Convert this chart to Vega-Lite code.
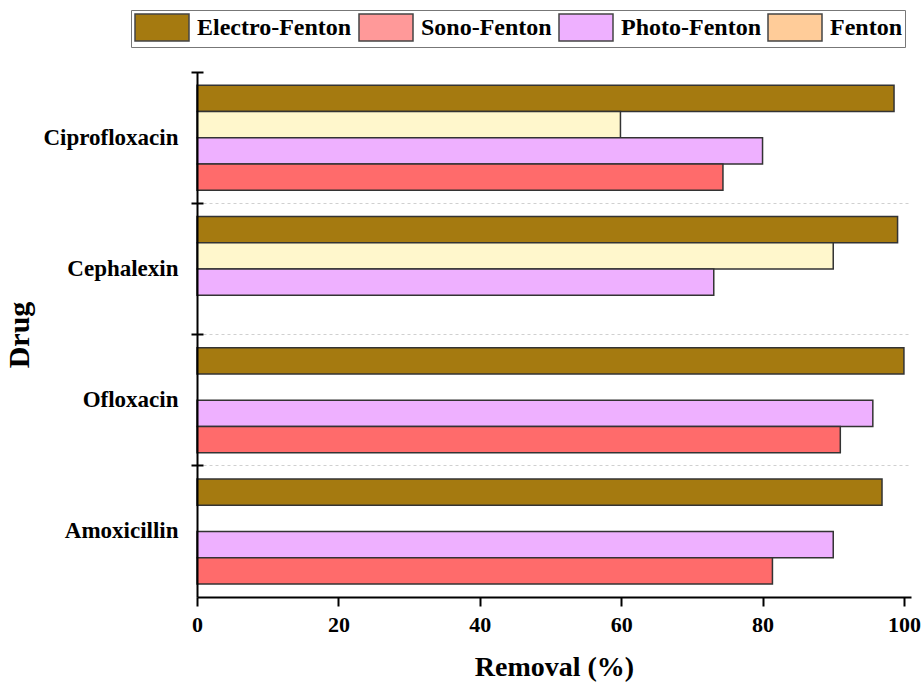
{
  "$schema": "https://vega.github.io/schema/vega-lite/v6.json",
  "width": 714,
  "height": 525,
  "autosize": {"type": "none"},
  "padding": {"left": 197, "top": 72, "right": 12, "bottom": 86},
  "background": "white",
  "config": {
    "view": {"stroke": null},
    "font": "Liberation Serif"
  },
  "layer": [
    {
      "data": {
        "values": [
          {"drug": "Ciprofloxacin", "method": "Electro-Fenton", "removal": 98.6},
          {"drug": "Ciprofloxacin", "method": "Fenton", "removal": 59.9},
          {"drug": "Ciprofloxacin", "method": "Photo-Fenton", "removal": 80.0},
          {"drug": "Ciprofloxacin", "method": "Sono-Fenton", "removal": 74.4},
          {"drug": "Cephalexin", "method": "Electro-Fenton", "removal": 99.1},
          {"drug": "Cephalexin", "method": "Fenton", "removal": 90.0},
          {"drug": "Cephalexin", "method": "Photo-Fenton", "removal": 73.1},
          {"drug": "Ofloxacin", "method": "Electro-Fenton", "removal": 100.0},
          {"drug": "Ofloxacin", "method": "Photo-Fenton", "removal": 95.6},
          {"drug": "Ofloxacin", "method": "Sono-Fenton", "removal": 91.0},
          {"drug": "Amoxicillin", "method": "Electro-Fenton", "removal": 96.9},
          {"drug": "Amoxicillin", "method": "Photo-Fenton", "removal": 90.0},
          {"drug": "Amoxicillin", "method": "Sono-Fenton", "removal": 81.4}
        ]
      },
      "mark": {"type": "bar", "stroke": "#333333", "strokeWidth": 1.5, "cornerRadius": 0},
      "encoding": {
        "y": {
          "field": "drug",
          "type": "nominal",
          "sort": ["Ciprofloxacin", "Cephalexin", "Ofloxacin", "Amoxicillin"],
          "scale": {"paddingInner": 0, "paddingOuter": 0},
          "axis": {
            "title": "Drug",
            "titleFont": "Liberation Serif",
            "titleFontSize": 30,
            "titleFontWeight": "bold",
            "titleColor": "black",
            "titlePadding": 8,
            "labelFont": "Liberation Serif",
            "labelFontSize": 23,
            "labelFontWeight": "bold",
            "labelColor": "black",
            "labelPadding": 13,
            "domain": false,
            "offset": -6,
            "tickSize": 12,
            "tickWidth": 2,
            "tickColor": "black",
            "bandPosition": 0,
            "labelBound": false,
            "grid": true,
            "gridDash": [3, 3],
            "gridColor": {"condition": {"test": "datum.value === 'Ciprofloxacin'", "value": "transparent"}, "value": "#d0d0d0"},
            "gridWidth": 1
          }
        },
        "yOffset": {
          "field": "method",
          "type": "nominal",
          "scale": {"domain": ["Electro-Fenton", "Fenton", "Photo-Fenton", "Sono-Fenton"], "paddingInner": 0, "paddingOuter": 0.5}
        },
        "x": {
          "field": "removal",
          "type": "quantitative",
          "scale": {"domain": [0, 101], "nice": false, "zero": true},
          "axis": {
            "title": "Removal (%)",
            "titleFont": "Liberation Serif",
            "titleFontSize": 28,
            "titleFontWeight": "bold",
            "titleColor": "black",
            "titlePadding": 18,
            "values": [0, 20, 40, 60, 80, 100],
            "labelFont": "Liberation Serif",
            "labelFontSize": 22,
            "labelFontWeight": "bold",
            "labelColor": "black",
            "labelPadding": 8,
            "labelFlush": false,
            "domainColor": "black",
            "domainWidth": 2,
            "tickColor": "black",
            "tickWidth": 2,
            "tickSize": 9,
            "grid": true,
            "gridColor": {"condition": {"test": "datum.value === 0", "value": "black"}, "value": "transparent"},
            "gridWidth": 2,
            "zindex": 1
          }
        },
        "fill": {
          "field": "method",
          "type": "nominal",
          "scale": {
            "domain": ["Electro-Fenton", "Fenton", "Photo-Fenton", "Sono-Fenton"],
            "range": ["#A57A10", "#FFF7CC", "#EEB0FF", "#FF6B6B"]
          },
          "legend": null
        }
      }
    },
    {
      "data": {
        "values": [
          {"technique": "Electro-Fenton"},
          {"technique": "Sono-Fenton"},
          {"technique": "Photo-Fenton"},
          {"technique": "Fenton"}
        ]
      },
      "transform": [{"filter": "false"}],
      "mark": {"type": "bar", "stroke": "#444444", "strokeWidth": 1.5},
      "encoding": {
        "color": {
          "field": "technique",
          "type": "nominal",
          "scale": {
            "domain": ["Electro-Fenton", "Sono-Fenton", "Photo-Fenton", "Fenton"],
            "range": ["#A57A10", "#FF9999", "#EEB0FF", "#FFCC99"]
          },
          "legend": {
            "title": null,
            "orient": "none",
            "legendX": -66,
            "legendY": -62,
            "direction": "horizontal",
            "padding": 3,
            "strokeColor": "#777777",
            "fillColor": "white",
            "symbolType": "M-1,-1H3V1H-1Z",
            "symbolSize": 729,
            "symbolStrokeColor": "#444444",
            "symbolStrokeWidth": 1.5,
            "symbolOpacity": 1,
            "labelFont": "Liberation Serif",
            "labelFontSize": 24,
            "labelFontWeight": "bold",
            "labelColor": "black",
            "labelOffset": 34,
            "columnPadding": 4,
            "labelLimit": 300
          }
        }
      }
    }
  ]
}
